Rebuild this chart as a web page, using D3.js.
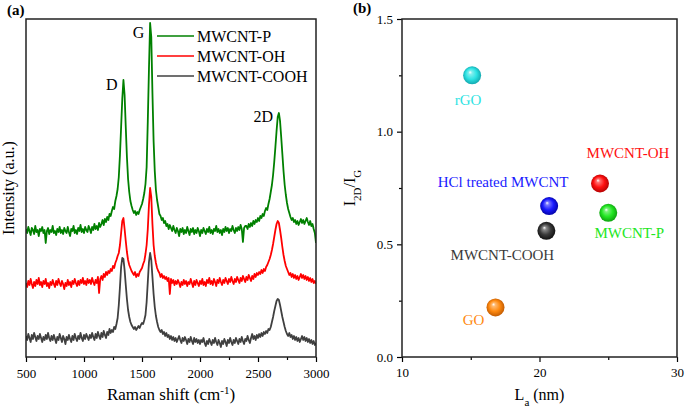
<!DOCTYPE html>
<html>
<head>
<meta charset="utf-8">
<script src="https://cdn.jsdelivr.net/npm/d3@7"></script>
<style>
  body { margin: 0; background: #fff; }
  svg text { font-family: "Liberation Serif", "DejaVu Serif", "Times New Roman", serif !important; fill: #000; }
</style>
</head>
<body>
<div id="chart"></div>
<script>
// ---- panel (a): Raman spectra, intensity (a.u.), 500..3000 cm-1 every 10
var shiftStart = 500, shiftStep = 10;

var specP = [
  128,124,130,126,122,129,127,123,131,125, 127,121,128,126,130,124,127,114,126,129,
  123,127,125,131,124,126,122,128,125,130, 124,127,123,129,126,124,130,125,121,128,
  126,131,124,127,123,129,126,132,125,128, 124,130,127,125,131,128,124,130,127,133,
  128,131,127,134,130,133,137,132,138,135, 140,137,143,141,146,150,148,156,161,168,
  180,202,230,258,277,262,230,200,178,165, 156,151,147,144,146,142,145,143,147,150,
  153,158,164,173,190,236,288,334,320,264, 216,186,167,157,150,143,141,137,139,134,
  136,131,133,128,132,129,126,131,127,124, 129,126,121,128,125,129,123,127,124,130,
  126,122,128,125,129,123,127,124,129,126, 121,127,124,129,126,123,128,125,130,124,
  127,123,128,126,131,125,128,124,127,122, 128,125,130,126,129,124,128,126,131,127,
  124,129,126,130,127,132,128,115,129,131, 131,128,133,130,134,131,136,133,137,135,
  139,136,141,139,143,141,146,149,147,153, 158,165,172,182,195,210,226,240,244,236,
  220,203,186,172,162,154,148,144,140,137, 139,135,137,133,136,132,135,138,134,137,
  133,136,139,135,132,136,131,133,128,124, 114
];

var specOH = [
  74,70,76,72,78,73,69,75,71,77, 73,79,72,75,70,76,73,78,71,74,
  69,75,72,77,73,70,76,72,78,74, 71,76,73,68,74,71,77,72,75,70,
  76,73,78,74,71,76,72,77,74,79, 73,76,72,78,74,77,73,79,75,72,
  77,74,80,64,78,81,77,83,80,85, 82,86,84,88,86,91,89,94,97,101,
  104,112,124,136,139,128,116,105,97,92, 89,86,84,82,85,80,83,81,85,87,
  89,93,96,103,112,128,152,169,160,133, 112,101,94,89,86,84,80,83,79,81,
  78,80,76,79,63,78,74,77,72,76, 73,77,74,70,75,72,77,73,76,71,
  75,73,78,74,70,76,72,77,74,71, 76,73,78,72,75,71,77,74,79,73,
  76,72,78,75,71,77,74,79,75,72, 77,74,79,76,73,78,75,80,76,73,
  78,75,80,77,74,79,76,81,78,75, 80,77,82,79,76,81,78,83,80,84,
  82,85,83,87,84,88,86,90,92,95, 98,102,107,113,120,127,133,136,134,127,
  119,110,102,96,91,88,85,82,84,80, 83,79,82,78,81,77,80,83,79,82,
  78,81,77,80,76,79,75,78,74,76, 73
];

var specCOOH = [
  21,17,23,19,15,22,18,24,20,16, 21,18,23,19,15,20,17,22,18,24,
  19,16,21,17,22,18,14,20,17,23, 19,15,21,18,13,20,17,22,18,15,
  21,17,23,19,16,21,18,24,19,16, 22,18,23,20,17,22,19,24,20,17,
  23,19,25,21,18,24,20,26,22,19, 25,22,28,24,27,25,30,28,33,39,
  52,70,90,99,98,87,72,58,47,40, 35,32,30,28,30,27,29,31,29,32,
  34,33,37,42,55,75,95,104,97,80, 63,50,41,35,30,27,25,27,23,25,
  21,24,20,22,18,21,17,20,16,19, 15,18,21,17,14,19,16,20,17,13,
  18,15,20,16,13,19,15,18,14,17, 13,17,15,19,14,11,16,13,18,15,
  12,17,14,19,15,12,17,14,10,16, 13,18,15,11,17,14,19,15,12,17,
  14,19,16,13,18,15,20,16,13,18, 16,21,17,14,19,23,18,21,17,22,
  19,23,20,24,21,25,23,26,24,28, 27,30,35,40,46,51,56,58,57,52,
  46,40,35,30,26,23,21,24,20,22, 18,21,17,20,16,19,15,18,21,17,
  20,16,19,15,18,14,17,13,16,12, 14
];

var specNames = ["MWCNT-P", "MWCNT-OH", "MWCNT-COOH"];
var specColors = ["#008000", "#ff0000", "#404040"];
var peakNames = ["D", "G", "2D"];
var peakShifts = [1240, 1470, 2545];
var peakHeights = [267, 319, 235];
var shiftTicks = [500, 1000, 1500, 2000, 2500, 3000];
var shiftMinor = [750, 1250, 1750, 2250, 2750];

// ---- panel (b): I2D/IG vs La
var samples = ["rGO", "MWCNT-OH", "HCl treated MWCNT", "MWCNT-P", "MWCNT-COOH", "GO"];
var laValues = [15.1, 24.4, 20.7, 25.0, 20.5, 16.8];
var ratioValues = [1.25, 0.77, 0.67, 0.64, 0.56, 0.22];
var sampleColors = ["#2ee3e3", "#ff1010", "#1a1aff", "#22e622", "#3a3a3a", "#ff8a10"];
var sampleDark = ["#0e9ea6", "#a80000", "#00009a", "#0c960c", "#0a0a0a", "#b85400"];
var labelDx = [-4, 28, -46, 21, -44, -22];
var labelDy = [30, -25, -19, 25, 29, 18];
var ratioTicks = [0, 0.5, 1.0, 1.5];
var ratioMinor = [0.25, 0.75, 1.25];
var laTicks = [10, 20, 30];
var laMinor = [15, 25];

var W = 685, H = 407;
var svg = d3.select("#chart").append("svg").attr("width", W).attr("height", H);

// ================= panel (a)
var A = { left: 26, right: 316, top: 19, bottom: 357 };

var xa = d3.scaleLinear().domain([500, 3000]).range([A.left, A.right]);
var ya = d3.scaleLinear().domain([0, 338]).range([A.bottom, A.top]);

svg.append("clipPath").attr("id", "clipA")
  .append("rect").attr("x", A.left).attr("y", A.top)
  .attr("width", A.right - A.left).attr("height", A.bottom - A.top);

var lineA = d3.line()
  .x(function(d, i) { return xa(shiftStart + i * shiftStep); })
  .y(function(d) { return ya(d); });

var gSpec = svg.append("g").attr("clip-path", "url(#clipA)");
[specCOOH, specOH, specP].forEach(function(s, k) {
  gSpec.append("path")
    .attr("d", lineA(s))
    .attr("fill", "none")
    .attr("stroke", specColors[2 - k])
    .attr("stroke-width", 1.8)
    .attr("stroke-linejoin", "round");
});

var axA = svg.append("g").attr("transform", "translate(0," + A.bottom + ")")
  .call(d3.axisBottom(xa).tickValues(shiftTicks).tickSize(5).tickPadding(7).tickFormat(d3.format("d")));
var axAm = svg.append("g").attr("transform", "translate(0," + A.bottom + ")")
  .call(d3.axisBottom(xa).tickValues(shiftMinor).tickSize(3).tickFormat(""));
[axA, axAm].forEach(function(g) {
  g.attr("font-family", null);
  g.select(".domain").remove();
  g.selectAll("line").attr("stroke", "#000").attr("stroke-width", 1.2);
  g.selectAll("text").attr("font-size", 13);
});

svg.append("rect")
  .attr("x", A.left).attr("y", A.top)
  .attr("width", A.right - A.left).attr("height", A.bottom - A.top)
  .attr("fill", "none").attr("stroke", "#222").attr("stroke-width", 1.5);

// peak labels
svg.selectAll(".peak").data(peakNames).enter().append("text")
  .attr("class", "peak")
  .attr("x", function(d, i) { return xa(peakShifts[i]); })
  .attr("y", function(d, i) { return ya(peakHeights[i]); })
  .attr("text-anchor", "middle")
  .attr("font-size", 16)
  .text(function(d) { return d; });

// legend
var leg = svg.append("g").attr("transform", "translate(157,36)");
specNames.forEach(function(n, i) {
  leg.append("line").attr("x1", 0).attr("x2", 37).attr("y1", i * 20).attr("y2", i * 20)
    .attr("stroke", specColors[i]).attr("stroke-width", 1.5);
  leg.append("text").attr("x", 40).attr("y", i * 20 + 6).attr("font-size", 16).text(n);
});

svg.append("text").attr("x", 7).attr("y", 15).attr("font-size", 15)
  .attr("font-weight", "bold").text("(a)");

svg.append("text")
  .attr("transform", "translate(14," + (A.top + A.bottom) / 2 + ") rotate(-90)")
  .attr("text-anchor", "middle").attr("font-size", 16)
  .text("Intensity (a.u.)");

var xtA = svg.append("text").attr("x", (A.left + A.right) / 2).attr("y", 400)
  .attr("text-anchor", "middle").attr("font-size", 17);
xtA.append("tspan").text("Raman shift (cm");
xtA.append("tspan").attr("baseline-shift", "super").attr("font-size", 11).text("-1");
xtA.append("tspan").text(")");

// ================= panel (b)
var B = { left: 402, right: 677, top: 19, bottom: 357 };
var xb = d3.scaleLinear().domain([10, 30]).range([B.left, B.right]);
var yb = d3.scaleLinear().domain([0, 1.5]).range([B.bottom, B.top]);

var defs = svg.append("defs");
sampleColors.forEach(function(c, i) {
  var g = defs.append("radialGradient").attr("id", "ball" + i)
    .attr("cx", "50%").attr("cy", "50%").attr("r", "55%")
    .attr("fx", "38%").attr("fy", "32%");
  g.append("stop").attr("offset", "0%").attr("stop-color", "#ffffff");
  g.append("stop").attr("offset", "18%").attr("stop-color", d3.interpolateRgb("#ffffff", c)(0.6));
  g.append("stop").attr("offset", "55%").attr("stop-color", c);
  g.append("stop").attr("offset", "100%").attr("stop-color", sampleDark[i]);
});

var axBy = svg.append("g").attr("transform", "translate(" + B.left + ",0)")
  .call(d3.axisLeft(yb).tickValues(ratioTicks).tickSize(5).tickPadding(4).tickFormat(d3.format(".1f")));
var axBym = svg.append("g").attr("transform", "translate(" + B.left + ",0)")
  .call(d3.axisLeft(yb).tickValues(ratioMinor).tickSize(3).tickFormat(""));
var axBx = svg.append("g").attr("transform", "translate(0," + B.bottom + ")")
  .call(d3.axisBottom(xb).tickValues(laTicks).tickSize(5).tickPadding(6).tickFormat(d3.format("d")));
var axBxm = svg.append("g").attr("transform", "translate(0," + B.bottom + ")")
  .call(d3.axisBottom(xb).tickValues(laMinor).tickSize(3).tickFormat(""));
[axBy, axBym, axBx, axBxm].forEach(function(g) {
  g.attr("font-family", null);
  g.select(".domain").remove();
  g.selectAll("line").attr("stroke", "#000").attr("stroke-width", 1.2);
  g.selectAll("text").attr("font-size", 13);
});

svg.append("rect")
  .attr("x", B.left).attr("y", B.top)
  .attr("width", B.right - B.left).attr("height", B.bottom - B.top)
  .attr("fill", "none").attr("stroke", "#222").attr("stroke-width", 1.5);

svg.selectAll(".ball").data(samples).enter().append("circle")
  .attr("class", "ball")
  .attr("cx", function(d, i) { return xb(laValues[i]); })
  .attr("cy", function(d, i) { return yb(ratioValues[i]); })
  .attr("r", 9)
  .attr("fill", function(d, i) { return "url(#ball" + i + ")"; });

svg.selectAll(".slabel").data(samples).enter().append("text")
  .attr("class", "slabel")
  .attr("x", function(d, i) { return xb(laValues[i]) + labelDx[i]; })
  .attr("y", function(d, i) { return yb(ratioValues[i]) + labelDy[i]; })
  .attr("text-anchor", "middle")
  .attr("font-size", 15)
  .style("fill", function(d, i) { return sampleColors[i]; })
  .text(function(d) { return d; });

svg.append("text").attr("x", 353).attr("y", 13).attr("font-size", 15)
  .attr("font-weight", "bold").text("(b)");

var ytB = svg.append("text")
  .attr("transform", "translate(355," + (B.top + B.bottom) / 2 + ") rotate(-90)")
  .attr("text-anchor", "middle").attr("font-size", 16);
ytB.append("tspan").text("I");
ytB.append("tspan").attr("baseline-shift", "sub").attr("font-size", 11).text("2D");
ytB.append("tspan").text("/I");
ytB.append("tspan").attr("baseline-shift", "sub").attr("font-size", 11).text("G");

var xtB = svg.append("text").attr("x", (B.left + B.right) / 2).attr("y", 400)
  .attr("text-anchor", "middle").attr("font-size", 16);
xtB.append("tspan").text("L");
xtB.append("tspan").attr("baseline-shift", "sub").attr("font-size", 11).text("a");
xtB.append("tspan").text(" (nm)");
</script>
</body>
</html>
